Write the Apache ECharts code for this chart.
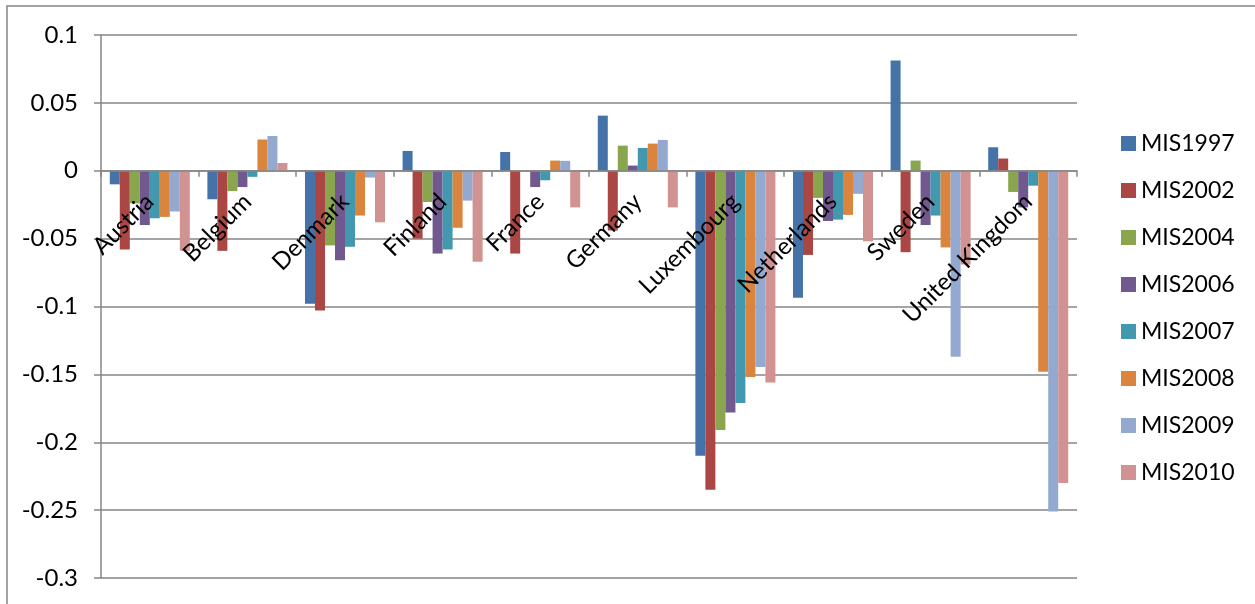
<!DOCTYPE html>
<html>
<head>
<meta charset="utf-8">
<script src="https://cdn.jsdelivr.net/npm/echarts@6/dist/echarts.min.js"></script>
<style>
  html, body { margin: 0; padding: 0; background: #fff; }
  #chart { width: 1255px; height: 604px; }
</style>
</head>
<body>
<div id="chart"></div>
<script>
// 国家（类别）
var countries = ['Austria', 'Belgium', 'Denmark', 'Finland', 'France', 'Germany',
    'Luxembourg', 'Netherlands', 'Sweden', 'United Kingdom'];

// 各年份数据
var mis1997 = [-0.010, -0.021, -0.098, 0.0146, 0.0138, 0.0406, -0.210, -0.0935, 0.0813, 0.0173];
var mis2002 = [-0.058, -0.059, -0.103, -0.050, -0.061, -0.044, -0.235, -0.062, -0.060, 0.009];
var mis2004 = [-0.024, -0.015, -0.055, -0.023, 0, 0.0185, -0.191, -0.020, 0.0075, -0.0156];
var mis2006 = [-0.040, -0.012, -0.066, -0.061, -0.012, 0.0038, -0.178, -0.037, -0.040, -0.027];
var mis2007 = [-0.035, -0.0045, -0.056, -0.058, -0.007, 0.0168, -0.171, -0.036, -0.033, -0.011];
var mis2008 = [-0.034, 0.023, -0.033, -0.042, 0.0075, 0.020, -0.152, -0.0325, -0.0565, -0.148];
var mis2009 = [-0.030, 0.0256, -0.005, -0.022, 0.0073, 0.0227, -0.1445, -0.017, -0.137, -0.251];
var mis2010 = [-0.059, 0.0057, -0.038, -0.067, -0.027, -0.027, -0.156, -0.052, -0.069, -0.230];

var seriesNames = ['MIS1997', 'MIS2002', 'MIS2004', 'MIS2006', 'MIS2007', 'MIS2008', 'MIS2009', 'MIS2010'];
var seriesData = [mis1997, mis2002, mis2004, mis2006, mis2007, mis2008, mis2009, mis2010];
var colors = ['#4572A7', '#AA4643', '#89A54E', '#71588F', '#4198AF', '#DB843D', '#93A9CF', '#D19392'];

// 纵轴范围
var yMin = -0.3, yMax = 0.1;
var gridTop = 35, gridBottom = 26, chartHeight = 604;
// 类目轴放在 0 的位置上（onZero 在这里不生效，改用 offset）
var plotHeight = chartHeight - gridTop - gridBottom;
var zeroOffset = -plotHeight * (0 - yMin) / (yMax - yMin);

var myChart = echarts.init(document.getElementById('chart'));

var series = seriesNames.map(function (name, i) {
    return {
        name: name,
        type: 'bar',
        data: seriesData[i],
        barGap: '0%',
        barCategoryGap: '18%',
        itemStyle: { color: colors[i] }
    };
});

var option = {
    animation: false,
    color: colors,
    textStyle: { fontFamily: 'Lato', color: '#000' },
    graphic: [{
        type: 'rect',
        shape: { x: 7, y: 6, width: 1270, height: 620 },
        style: { fill: 'none', stroke: '#868686', lineWidth: 1.5 },
        silent: true
    }],
    legend: {
        orient: 'vertical',
        left: 1116,
        top: 127,
        itemWidth: 15,
        itemHeight: 15,
        itemGap: 24,
        icon: 'rect',
        textStyle: { fontSize: 23, lineHeight: 23, color: '#000', fontFamily: 'Lato' },
        data: seriesNames
    },
    grid: {
        left: 101,
        right: 178,
        top: gridTop,
        bottom: gridBottom,
        containLabel: false,
        outerBoundsMode: 'none'
    },
    xAxis: {
        type: 'category',
        data: countries,
        position: 'bottom',
        offset: zeroOffset,
        axisLine: { onZero: false, lineStyle: { color: '#868686', width: 1.5 } },
        axisTick: { show: true, length: 6, lineStyle: { color: '#868686', width: 1.5 } },
        axisLabel: {
            rotate: 45,
            interval: 0,
            margin: 27,
            fontSize: 24,
            color: '#000',
            fontFamily: 'Lato'
        },
        z: 10
    },
    yAxis: {
        type: 'value',
        min: yMin,
        max: yMax,
        interval: 0.05,
        axisLine: { show: true, lineStyle: { color: '#868686', width: 1.5 } },
        axisTick: { show: true, length: 7, lineStyle: { color: '#868686', width: 1.5 } },
        splitLine: { lineStyle: { color: '#868686', width: 1.5 } },
        axisLabel: {
            margin: 23,
            fontSize: 24,
            color: '#000',
            fontFamily: 'Lato',
            formatter: function (v) { return String(Math.round(v * 100) / 100); }
        }
    },
    series: series
};

myChart.setOption(option);
</script>
</body>
</html>
